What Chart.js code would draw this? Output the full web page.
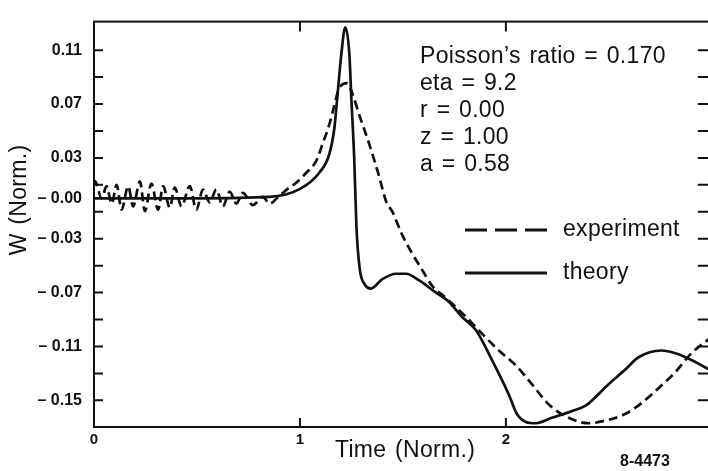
<!DOCTYPE html>
<html>
<head>
<meta charset="utf-8">
<script src="https://cdn.jsdelivr.net/npm/chart.js@4.4.1/dist/chart.umd.min.js"></script>
<style>
  html, body { margin:0; padding:0; background:#fff; overflow:hidden; }
  #wrap { width:720px; height:471px; }
</style>
</head>
<body>
<div id="wrap"><canvas id="c" width="720" height="471"></canvas></div>
<script>
// experiment (dashed) - time and W
const expTime = [0.000, 0.005, 0.037, 0.061, 0.086, 0.110, 0.134, 0.166, 0.190, 0.223, 0.247, 0.279, 0.311,
  0.336, 0.368, 0.392, 0.425, 0.465, 0.497, 0.529, 0.562, 0.594, 0.626, 0.659, 0.691, 0.723, 0.771, 0.820,
  0.852, 0.901, 0.949, 0.982, 1.031, 1.080, 1.109, 1.143, 1.167, 1.191, 1.230, 1.254, 1.288, 1.337, 1.385,
  1.419, 1.448, 1.496, 1.545, 1.593, 1.642, 1.709, 1.806, 1.884, 1.966, 2.048, 2.126, 2.208, 2.305, 2.402,
  2.484, 2.581, 2.659, 2.741, 2.823, 2.901, 2.973, 3.000];
const expW = [0.010, 0.0125, 0.000, 0.009, -0.004, 0.010, -0.0085, 0.009, -0.006, 0.0125, -0.0095, 0.011, -0.0085,
  0.009, -0.007, 0.008, -0.006, 0.009, -0.0085, 0.0065, -0.003, 0.0065, -0.006, 0.005, -0.004, 0.004, -0.005, 0.001,
  -0.004, 0.002, 0.008, 0.0116, 0.019, 0.028, 0.040, 0.055, 0.069, 0.082, 0.0855, 0.078, 0.062, 0.040, 0.016,
  -0.0025, -0.0097, -0.027, -0.041, -0.053, -0.065, -0.074, -0.088, -0.1005, -0.113, -0.124, -0.138, -0.153, -0.163, -0.167,
  -0.165, -0.160, -0.152, -0.141, -0.129, -0.115, -0.106, -0.103];

// theory (solid)
const theoryTime = [0.000, 0.500, 0.852, 0.998, 1.094, 1.143, 1.167, 1.182, 1.201, 1.220, 1.240, 1.249, 1.264,
  1.274, 1.290, 1.315, 1.345, 1.400, 1.467, 1.516, 1.579, 1.642, 1.724, 1.787, 1.855, 1.932, 2.015, 2.053,
  2.097, 2.145, 2.223, 2.320, 2.387, 2.499, 2.581, 2.644, 2.755, 2.823, 2.901, 2.973, 3.000];
const theoryW = [0.000, 0.000, 0.001, 0.0068, 0.019, 0.033, 0.052, 0.076, 0.107, 0.127, 0.107, 0.076, 0.028,
  -0.020, -0.052, -0.064, -0.067, -0.060, -0.056, -0.056, -0.061, -0.068, -0.077, -0.088, -0.098, -0.120, -0.146, -0.160,
  -0.166, -0.167, -0.163, -0.158, -0.154, -0.138, -0.127, -0.118, -0.113, -0.115, -0.120, -0.126, -0.128];

const xTickLabels = [0, 1, 2, 3];
const xTickMarks = [1, 2];
const yTickLabels = [0.11, 0.07, 0.03, 0.00, -0.03, -0.07, -0.11, -0.15];
const yTickMarks = [0.11, 0.09, 0.07, 0.05, 0.03, 0.01, -0.01, -0.03, -0.05, -0.07, -0.09, -0.11, -0.13, -0.15];
const paramLines = ['Poisson\u2019s ratio = 0.170', 'eta = 9.2', 'r = 0.00', 'z = 1.00', 'a = 0.58'];
const legendLabels = ['experiment', 'theory'];

const ink = '#111';
const FONT = "'Liberation Sans', Arial, Helvetica, sans-serif";

const toPts = (xs, ys) => xs.map((t, i) => ({ x:t, y:ys[i] }));

const decor = {
  id:'decor',
  afterDraw(chart){
    const { ctx, chartArea:a, scales:{ x, y } } = chart;
    ctx.save();
    ctx.strokeStyle = ink; ctx.fillStyle = ink;
    ctx.lineWidth = 2;
    ctx.strokeRect(a.left, a.top, a.right - a.left, a.bottom - a.top);
    ctx.beginPath();
    yTickMarks.forEach(v => {
      const py = y.getPixelForValue(v);
      ctx.moveTo(a.left, py); ctx.lineTo(a.left + 9, py);
      ctx.moveTo(a.right, py); ctx.lineTo(a.right - 14, py);
    });
    xTickMarks.forEach(v => {
      const px = x.getPixelForValue(v);
      ctx.moveTo(px, a.bottom); ctx.lineTo(px, a.bottom - 9);
      ctx.moveTo(px, a.top); ctx.lineTo(px, a.top + 10);
    });
    ctx.stroke();

    // parameter block
    ctx.font = `23px ${FONT}`;
    ctx.letterSpacing = '0.3px';
    ctx.wordSpacing = '2px';
    ctx.textBaseline = 'middle'; ctx.textAlign = 'left';
    paramLines.forEach((s, i) => ctx.fillText(s, 420, 57 + i * 27));

    // legend
    ctx.lineWidth = 3;
    ctx.setLineDash([22, 8]);
    ctx.beginPath(); ctx.moveTo(465, 230); ctx.lineTo(547, 230); ctx.stroke();
    ctx.setLineDash([]);
    ctx.beginPath(); ctx.moveTo(465, 273); ctx.lineTo(547, 273); ctx.stroke();
    ctx.fillText(legendLabels[0], 563, 230);
    ctx.fillText(legendLabels[1], 563, 273);

    // axis titles
    ctx.textAlign = 'center';
    ctx.fillText('Time (Norm.)', 405, 451);
    ctx.save();
    ctx.translate(20, 200); ctx.rotate(-Math.PI / 2);
    ctx.fillText('W (Norm.)', 0, 0);
    ctx.restore();

    ctx.letterSpacing = '0px'; ctx.wordSpacing = '0px';
    ctx.font = `bold 16px ${FONT}`;
    ctx.fillText('8-4473', 645, 462);
    ctx.restore();
  }
};

new Chart(document.getElementById('c'), {
  type:'line',
  data:{ datasets:[
    { label:'experiment', data:toPts(expTime, expW), borderColor:ink, borderWidth:2.7, borderDash:[9,5],
      pointRadius:0, cubicInterpolationMode:'monotone', fill:false },
    { label:'theory', data:toPts(theoryTime, theoryW), borderColor:ink, borderWidth:2.7,
      pointRadius:0, cubicInterpolationMode:'monotone', fill:false }
  ]},
  options:{
    responsive:false, animation:false,
    layout:{ padding:{ left:0, top:6, right:7, bottom:0 } },
    plugins:{ legend:{ display:false }, tooltip:{ enabled:false } },
    scales:{
      x:{
        type:'linear', min:0, max:3,
        grid:{ display:false, drawTicks:false }, border:{ display:false },
        afterBuildTicks:s => { s.ticks = xTickLabels.map(v => ({ value:v })); },
        afterFit:s => { s.height = 44; },
        ticks:{ color:ink, padding:4, autoSkip:false, maxRotation:0, font:{ family:FONT, size:15, weight:'bold' },
          callback:v => String(v) }
      },
      y:{
        type:'linear', min:-0.1698, max:0.1312,
        grid:{ display:false, drawTicks:false }, border:{ display:false },
        afterBuildTicks:s => { s.ticks = yTickLabels.map(v => ({ value:v })); },
        afterFit:s => { s.width = 94; },
        ticks:{ color:ink, padding:12, autoSkip:false, font:{ family:FONT, size:16, weight:'bold' },
          callback:v => v > 0 ? v.toFixed(2) : '\u2013 ' + Math.abs(v).toFixed(2) }
      }
    }
  },
  plugins:[decor]
});
</script>
</body>
</html>
